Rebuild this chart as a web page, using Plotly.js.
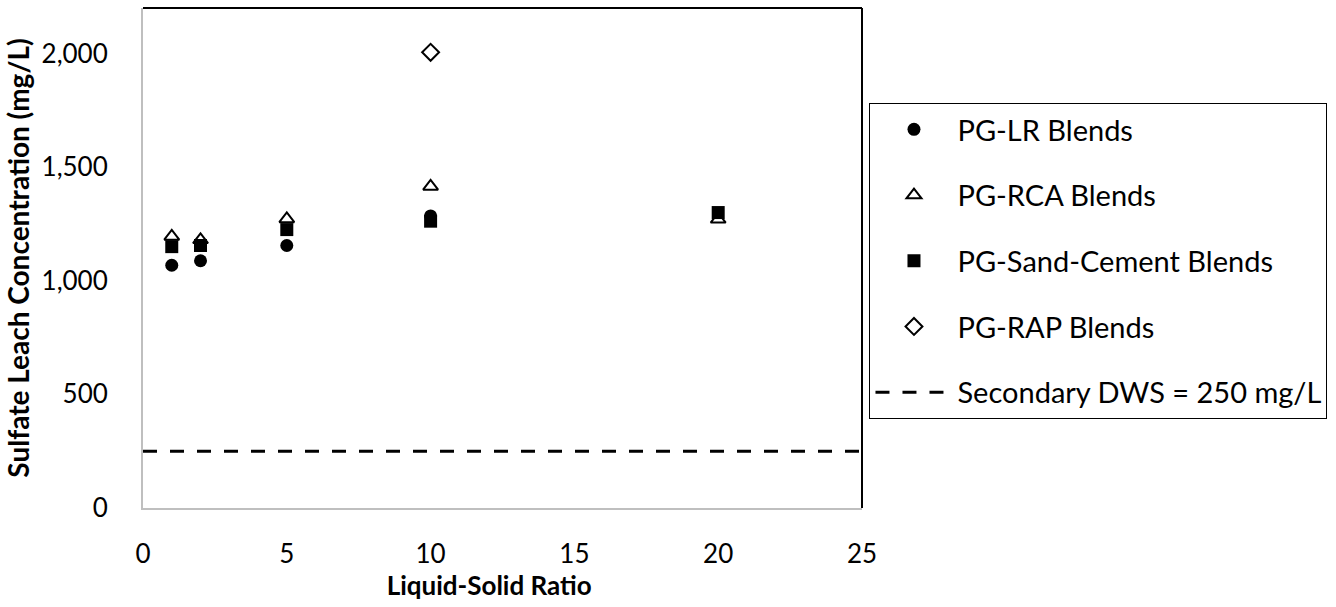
<!DOCTYPE html>
<html>
<head>
<meta charset="utf-8">
<script src="https://cdn.plot.ly/plotly-3.0.1.min.js"></script>
<style>html,body{margin:0;padding:0;background:#fff;}#chart{width:1336px;height:607px;}</style>
</head>
<body>
<div id="chart"></div>
<script>
// Liquid-solid ratios and sulfate leach concentrations (mg/L)
var lrX = [1, 2, 5, 10];
var lrY = [1068, 1088, 1155, 1285];
var rcaX = [1, 2, 5, 10, 20];
var rcaY = [1195, 1180, 1272, 1415, 1270];
var scX = [1, 2, 5, 10, 20];
var scY = [1150, 1155, 1225, 1262, 1300];
var rapX = [10];
var rapY = [2005];
var dwsX = [0, 25];
var dwsY = [250, 250];
var names = ['PG-LR Blends', 'PG-RCA Blends', 'PG-Sand-Cement Blends', 'PG-RAP Blends', 'Secondary DWS = 250 mg/L'];
var yTicks = [0, 500, 1000, 1500, 2000];
var xTicks = [0, 5, 10, 15, 20, 25];

var FONT = 'Lato, "Noto Sans", sans-serif';

var traces = [
  {x: lrX, y: lrY, name: names[0], legendgroup: 'a', mode: 'markers', type: 'scatter',
   marker: {symbol: 'circle', size: 13, color: '#000'}},
  {x: rcaX, y: rcaY, name: names[1], legendgroup: 'b', mode: 'markers', type: 'scatter',
   marker: {symbol: 'triangle-up-open', size: 13, color: '#000', line: {width: 2, color: '#000'}}},
  {x: scX, y: scY, name: names[2], legendgroup: 'c', mode: 'markers', type: 'scatter',
   marker: {symbol: 'square', size: 13, color: '#000'}},
  {x: rapX, y: rapY, name: names[3], legendgroup: 'd', mode: 'markers', type: 'scatter',
   marker: {symbol: 'diamond-open', size: 13, color: '#000', line: {width: 2, color: '#000'}}},
  {x: dwsX, y: dwsY, name: names[4], legendgroup: 'e', mode: 'lines', type: 'scatter',
   line: {color: '#000', width: 3, dash: '14px,13px'}}
];

var layout = {
  width: 1336, height: 607,
  margin: {l: 143, r: 474, t: 8, b: 99},
  paper_bgcolor: '#fff', plot_bgcolor: '#fff',
  font: {family: FONT, size: 26, color: '#000'},
  showlegend: true,
  legend: {
    x: 1.0104, xanchor: 'left', y: 0.81, yanchor: 'top',
    bordercolor: '#000', borderwidth: 1, bgcolor: '#fff',
    font: {family: FONT, size: 29, color: '#000'},
    tracegroupgap: 25, itemwidth: 77
  },
  xaxis: {
    range: [0, 25], tickvals: xTicks, ticks: '', showgrid: false, zeroline: false,
    showline: true, linecolor: '#bfbfbf', linewidth: 2,
    ticklabelstandoff: 22,
    tickfont: {family: FONT, size: 26, color: '#000'},
    title: {text: '<b>Liquid-Solid Ratio</b>&nbsp;&nbsp;&nbsp;&nbsp;', font: {family: FONT, size: 26, color: '#000'}, standoff: 6}
  },
  yaxis: {
    range: [0, 2200], tickvals: yTicks, tickformat: ',', ticks: '', showgrid: false, zeroline: false,
    showline: true, linecolor: '#bfbfbf', linewidth: 2,
    ticklabelstandoff: 28,
    tickfont: {family: FONT, size: 26, color: '#000'},
    title: {text: '<b>Sulfate Leach Concentration (mg/L)</b>', font: {family: FONT, size: 28, color: '#000'}, standoff: 4}
  },
  shapes: [
    {type: 'line', xref: 'paper', yref: 'paper', x0: 0, x1: 1, y0: 1, y1: 1, line: {color: '#000', width: 2}},
    {type: 'line', xref: 'paper', yref: 'paper', x0: 1, x1: 1, y0: 0, y1: 1, line: {color: '#000', width: 2}}
  ]
};

Plotly.newPlot('chart', traces, layout, {displayModeBar: false, staticPlot: true});
</script>
</body>
</html>
